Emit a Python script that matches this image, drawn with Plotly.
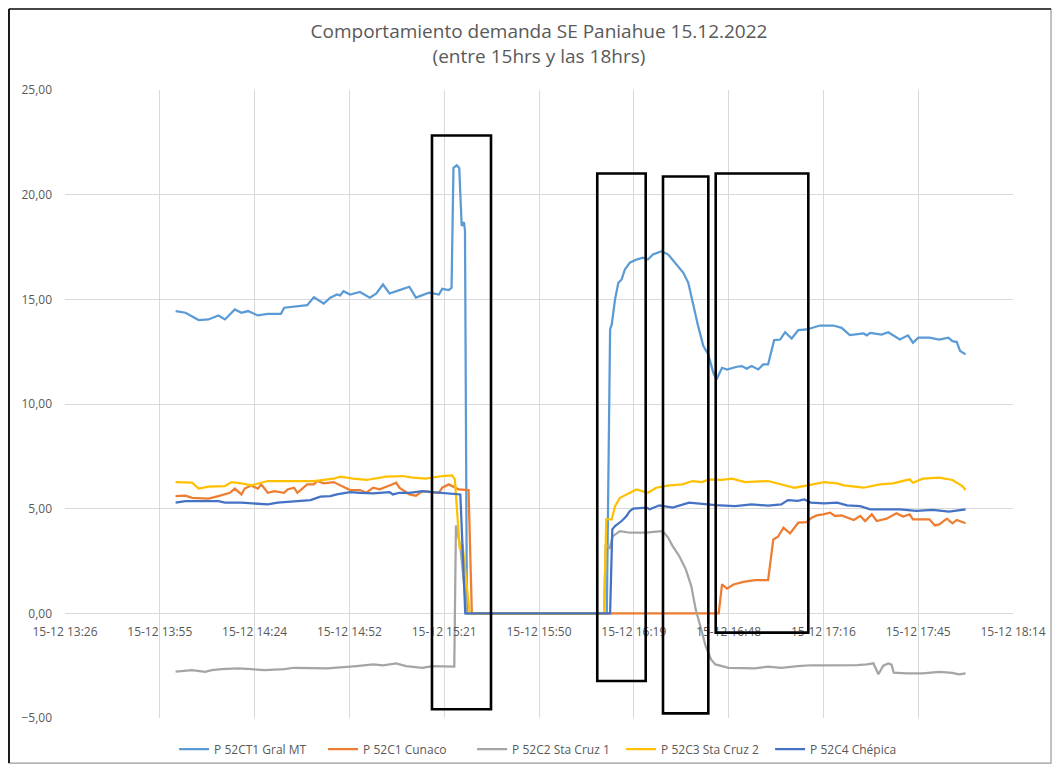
import pandas as pd
import plotly.graph_objects as go

DAY = "2022-12-15 "

title_text = "Comportamiento demanda SE Paniahue 15.12.2022<br>(entre 15hrs y las 18hrs)"
series_names = ["P 52CT1 Gral MT", "P 52C1 Cunaco", "P 52C2 Sta Cruz 1",
                "P 52C3 Sta Cruz 2", "P 52C4 Chépica"]
series_colors = ["#5B9BD5", "#ED7D31", "#A5A5A5", "#FFC000", "#4472C4"]

# P 52CT1 Gral MT
ct1_t = ["14:00", "14:03", "14:07", "14:10", "14:13", "14:15", "14:18", "14:20", "14:22", "14:25",
         "14:28", "14:32", "14:33", "14:36", "14:40", "14:42", "14:45", "14:47", "14:49", "14:50",
         "14:51", "14:53", "14:56", "14:59", "15:01", "15:03", "15:05", "15:08", "15:11", "15:13",
         "15:17", "15:20", "15:21", "15:23", "15:23:50", "15:24:25", "15:25:25", "15:26:10", "15:26:55",
         "15:27:35", "15:27:55", "15:28:30", "16:11:00", "16:12:00", "16:12:30", "16:13:30",
         "16:14:30", "16:15:30", "16:16:30", "16:18", "16:20", "16:22", "16:23:30", "16:25",
         "16:27:40", "16:29:40", "16:32:15", "16:34:15", "16:35:45", "16:37:15", "16:38:45",
         "16:40:20", "16:41:50", "16:43:20", "16:44:20", "16:46", "16:47:30", "16:50:30", "16:52",
         "16:53:30", "16:55", "16:57", "16:58:30", "17:00", "17:01:50", "17:03:40", "17:05:10",
         "17:07:10", "17:09:10", "17:11:45", "17:13:45", "17:15:45", "17:19:50", "17:22:20",
         "17:24:50", "17:29", "17:30", "17:31", "17:34:30", "17:36:30", "17:40", "17:42:30",
         "17:44", "17:45:40", "17:49", "17:52", "17:54:45", "17:56", "17:57:20", "17:58:20", "18:00"]
ct1_v = [14.44, 14.36, 14.01, 14.04, 14.23, 14.04, 14.52, 14.36, 14.44, 14.23,
         14.31, 14.31, 14.60, 14.65, 14.72, 15.10, 14.80, 15.08, 15.23, 15.19,
         15.39, 15.23, 15.35, 15.08, 15.28, 15.71, 15.28, 15.44, 15.60, 15.08,
         15.32, 15.23, 15.50, 15.44, 15.55, 21.28, 21.40, 21.28, 18.50,
         18.69, 18.30, 0.00, 0.00, 13.56, 13.80, 15.00,
         15.79, 15.95, 16.43, 16.75, 16.90, 16.99, 16.90, 17.14,
         17.30, 17.14, 16.67, 16.27, 15.79, 14.68, 13.72,
         12.77, 12.37, 11.50, 11.17, 11.73, 11.65, 11.78, 11.81,
         11.69, 11.81, 11.65, 11.89, 11.89, 13.05, 13.08, 13.43,
         13.13, 13.53, 13.56, 13.64, 13.75, 13.75, 13.64,
         13.29, 13.37, 13.28, 13.40, 13.32, 13.43, 13.08, 13.28,
         12.93, 13.17, 13.17, 13.08, 13.17, 13.00, 12.96, 12.53, 12.37]

# P 52C1 Cunaco
c1_t = ["14:00", "14:03", "14:05", "14:10", "14:13", "14:16:30", "14:18", "14:20", "14:21", "14:23",
        "14:25", "14:26", "14:28", "14:30", "14:33", "14:34", "14:36", "14:37", "14:40", "14:42",
        "14:43", "14:45", "14:48", "14:50", "14:53", "14:56", "14:58", "15:00", "15:02", "15:05",
        "15:07", "15:08", "15:11", "15:13", "15:15", "15:17", "15:20", "15:21", "15:23", "15:26",
        "15:29", "15:30", "16:45", "16:46", "16:47:30", "16:49:30", "16:52:30", "16:56", "17:00",
        "17:01:35", "17:03", "17:04:40", "17:06:40", "17:09:10", "17:11:40", "17:13:15",
        "17:14:45", "17:16:45", "17:18:50", "17:20:20", "17:22:20", "17:26", "17:28", "17:29:30",
        "17:31:30", "17:33", "17:36", "17:39", "17:41", "17:43", "17:44", "17:49", "17:50:40",
        "17:52", "17:54:20", "17:56", "17:57:20", "18:00"]
c1_v = [5.60, 5.62, 5.52, 5.48, 5.60, 5.76, 5.96, 5.68, 5.96, 6.11,
        5.96, 6.16, 5.76, 5.84, 5.76, 5.92, 6.00, 5.76, 6.16, 6.16,
        6.32, 6.21, 6.27, 6.11, 5.89, 5.89, 5.76, 6.00, 5.92, 6.11,
        6.24, 6.00, 5.68, 5.62, 5.84, 5.80, 5.76, 6.00, 6.16, 5.92,
        5.89, 0.00, 0.00, 1.38, 1.18, 1.38, 1.50, 1.59, 1.59,
        3.53, 3.66, 4.09, 3.82, 4.33, 4.36, 4.57,
        4.68, 4.73, 4.81, 4.65, 4.68, 4.46, 4.65, 4.41,
        4.73, 4.41, 4.52, 4.78, 4.62, 4.73, 4.49, 4.49, 4.20,
        4.25, 4.52, 4.30, 4.46, 4.30]

# P 52C2 Sta Cruz 1
c2_t = ["14:00", "14:03", "14:05", "14:09", "14:11", "14:14", "14:19", "14:23", "14:27", "14:33",
        "14:36", "14:46", "14:50", "14:52", "14:55", "15:00", "15:03", "15:07", "15:10", "15:15",
        "15:18", "15:21", "15:24:40", "15:25:10", "15:26:30", "15:28:30", "16:10:10", "16:10:40",
        "16:11:50", "16:12:50", "16:15", "16:18", "16:20:30", "16:23", "16:26", "16:28", "16:29:40",
        "16:31", "16:33", "16:35", "16:36:40", "16:38", "16:39:40", "16:41", "16:42:40", "16:44",
        "16:48", "16:52", "16:56", "17:00", "17:04", "17:09", "17:13", "17:17", "17:22", "17:27",
        "17:30", "17:32", "17:33:30", "17:35", "17:36:30", "17:37:30", "17:38:10", "17:42", "17:47",
        "17:52", "17:56", "17:58", "18:00"]
c2_v = [-2.79, -2.76, -2.71, -2.80, -2.71, -2.67, -2.63, -2.67, -2.71, -2.67,
        -2.60, -2.63, -2.60, -2.56, -2.52, -2.44, -2.48, -2.39, -2.52, -2.60,
        -2.52, -2.52, -2.55, 4.20, 3.20, 0.00, 0.00, 3.30,
        3.09, 3.69, 3.93, 3.85, 3.85, 3.85, 3.90, 3.93, 3.61,
        3.21, 2.74, 2.10, 1.30, 0.19, -0.76, -1.56, -2.20, -2.44,
        -2.60, -2.60, -2.63, -2.55, -2.60, -2.52, -2.48, -2.48, -2.48, -2.47,
        -2.44, -2.39, -2.91, -2.50, -2.39, -2.45, -2.83, -2.87, -2.87,
        -2.80, -2.84, -2.91, -2.87]

# P 52C3 Sta Cruz 2
c3_t = ["14:00", "14:05", "14:07", "14:10", "14:15", "14:17", "14:20", "14:23", "14:26", "14:28",
        "14:36", "14:42", "14:48", "14:50", "14:54", "14:58", "15:04", "15:09", "15:12", "15:16",
        "15:21", "15:24", "15:24:50", "15:26:20", "15:27:10", "15:29:20", "16:10:10", "16:10:50",
        "16:12:30", "16:13:30", "16:15", "16:17", "16:20", "16:23:30", "16:26", "16:30", "16:34",
        "16:37", "16:40", "16:42", "16:46", "16:49", "16:53", "17:00", "17:04", "17:08", "17:12",
        "17:17", "17:21", "17:23", "17:29", "17:34", "17:38", "17:43", "17:44", "17:47", "17:52",
        "17:56", "17:59", "18:00"]
c3_v = [6.27, 6.24, 5.96, 6.05, 6.08, 6.27, 6.21, 6.11, 6.24, 6.32,
        6.32, 6.32, 6.43, 6.53, 6.43, 6.37, 6.53, 6.56, 6.48, 6.43,
        6.56, 6.59, 6.40, 3.06, 3.30, 0.00, 0.00, 4.49,
        4.49, 5.12, 5.52, 5.68, 5.92, 5.76, 6.00, 6.11, 6.16,
        6.32, 6.27, 6.40, 6.37, 6.43, 6.27, 6.32, 6.16, 6.00, 6.11,
        6.27, 6.21, 6.11, 6.00, 6.16, 6.21, 6.40, 6.24, 6.43, 6.48,
        6.37, 6.08, 5.89]

# P 52C4 Chépica
c4_t = ["14:00", "14:03", "14:13", "14:15", "14:20", "14:24", "14:28", "14:31", "14:36", "14:41",
        "14:44", "14:47", "14:49", "14:51", "14:53", "14:56", "15:00", "15:02", "15:05", "15:06",
        "15:08", "15:11", "15:15", "15:18", "15:21", "15:24", "15:26:30", "15:28", "16:12",
        "16:12:40", "16:13:30", "16:15:30", "16:17", "16:18", "16:19", "16:23", "16:24", "16:27",
        "16:31", "16:36", "16:41", "16:44", "16:50", "16:55", "17:00", "17:04", "17:06", "17:09",
        "17:11", "17:13", "17:17", "17:21", "17:24", "17:28", "17:31", "17:35", "17:40", "17:45",
        "17:50", "17:55", "18:00"]
c4_v = [5.29, 5.36, 5.36, 5.29, 5.29, 5.25, 5.20, 5.29, 5.36, 5.41,
        5.57, 5.60, 5.68, 5.73, 5.79, 5.76, 5.73, 5.76, 5.79, 5.68,
        5.76, 5.76, 5.84, 5.79, 5.76, 5.73, 5.68, 0.00, 0.00,
        4.01, 4.17, 4.41, 4.65, 4.89, 5.00, 5.05, 4.97, 5.16,
        5.05, 5.29, 5.20, 5.17, 5.12, 5.20, 5.15, 5.20, 5.41, 5.37,
        5.44, 5.29, 5.25, 5.29, 5.16, 5.12, 4.97, 4.97, 4.97, 4.89,
        4.94, 4.86, 4.97]

# x-axis ticks (Excel major unit 0.02 day)
x_tick_times = ["13:26:24", "13:55:12", "14:24:00", "14:52:48", "15:21:36", "15:50:24",
                "16:19:12", "16:48:00", "17:16:48", "17:45:36", "18:14:24"]
x_tick_labels = ["15-12 13:26", "15-12 13:55", "15-12 14:24", "15-12 14:52", "15-12 15:21",
                 "15-12 15:50", "15-12 16:19", "15-12 16:48", "15-12 17:16", "15-12 17:45",
                 "15-12 18:14"]
y_ticks = [-5, 0, 5, 10, 15, 20, 25]

# highlight boxes (x0, x1, y0, y1)
box_x0 = ["15:17:53", "16:08:06", "16:28:04", "16:44:05"]
box_x1 = ["15:35:49", "16:22:49", "16:41:50", "17:12:13"]
box_y0 = [-4.58, -3.23, -4.78, -0.92]
box_y1 = [22.83, 21.01, 20.87, 21.01]


def ts1(s):
    if len(s) == 5:
        s = s + ":00"
    return pd.Timestamp(DAY + s)


def ts(lst):
    return [ts1(s) for s in lst]


fig = go.Figure()
all_t = [ct1_t, c1_t, c2_t, c3_t, c4_t]
all_v = [ct1_v, c1_v, c2_v, c3_v, c4_v]
for name, color, t, v in zip(series_names, series_colors, all_t, all_v):
    fig.add_trace(go.Scatter(x=ts(t), y=v, mode="lines", name=name,
                             line=dict(color=color, width=2.25)))

for a, b, c, d in zip(box_x0, box_x1, box_y0, box_y1):
    fig.add_shape(type="rect", xref="x", yref="y",
                  x0=ts1(a), x1=ts1(b), y0=c, y1=d,
                  line=dict(color="black", width=2.6), fillcolor="rgba(0,0,0,0)")

# outer chart frame (screenshot border)
FX0, FX1, FY0, FY1 = -0.0591, 1.0401, -0.0717, 1.129
fig.add_shape(type="rect", xref="paper", yref="paper", x0=FX0, x1=FX1, y0=FY0, y1=FY1,
              line=dict(color="#9A9A9A", width=1.2))
fig.add_shape(type="line", xref="paper", yref="paper", x0=FX0, x1=FX0, y0=FY0, y1=FY1,
              line=dict(color="#1A1A1A", width=2))
fig.add_shape(type="line", xref="paper", yref="paper", x0=FX0, x1=FX1, y0=FY1, y1=FY1,
              line=dict(color="#1A1A1A", width=1.5))

fig.update_layout(
    width=1044, height=756,
    margin=dict(l=57, r=39, t=82, b=46, autoexpand=False),
    paper_bgcolor="white", plot_bgcolor="white",
    separators=",.",
    font=dict(family="Open Sans, sans-serif", color="#595959", size=12),
    title=dict(text=title_text, x=0.5, xref="paper", xanchor="center",
               y=0.9597, yanchor="middle",
               font=dict(family="Open Sans, sans-serif", size=19, color="#595959")),
    legend=dict(orientation="h", x=0.508, xanchor="center", y=-0.0494, yanchor="middle",
                font=dict(size=12, color="#595959"), itemwidth=30,
                entrywidth=104, entrywidthmode="pixels",
                bgcolor="rgba(0,0,0,0)"),
    showlegend=True,
)

fig.update_xaxes(
    type="date",
    range=[ts1(x_tick_times[0]), ts1(x_tick_times[-1])],
    tickmode="array", tickvals=ts(x_tick_times), ticktext=x_tick_labels,
    showgrid=True, gridcolor="#D9D9D9", gridwidth=1,
    anchor="free", position=(0 - (-5)) / 30.0,
    showline=False, ticks="", ticklabelstandoff=10,
    tickfont=dict(size=12, color="#595959"),
    zeroline=False,
)
fig.update_yaxes(
    range=[-5, 25], tickmode="array", tickvals=y_ticks, tickformat=".2f",
    showgrid=True, gridcolor="#D9D9D9", gridwidth=1,
    zeroline=True, zerolinecolor="#D9D9D9", zerolinewidth=1,
    showline=False, ticks="", ticklabelstandoff=12,
    tickfont=dict(size=12, color="#595959"),
)

fig.write_html("out.html")
